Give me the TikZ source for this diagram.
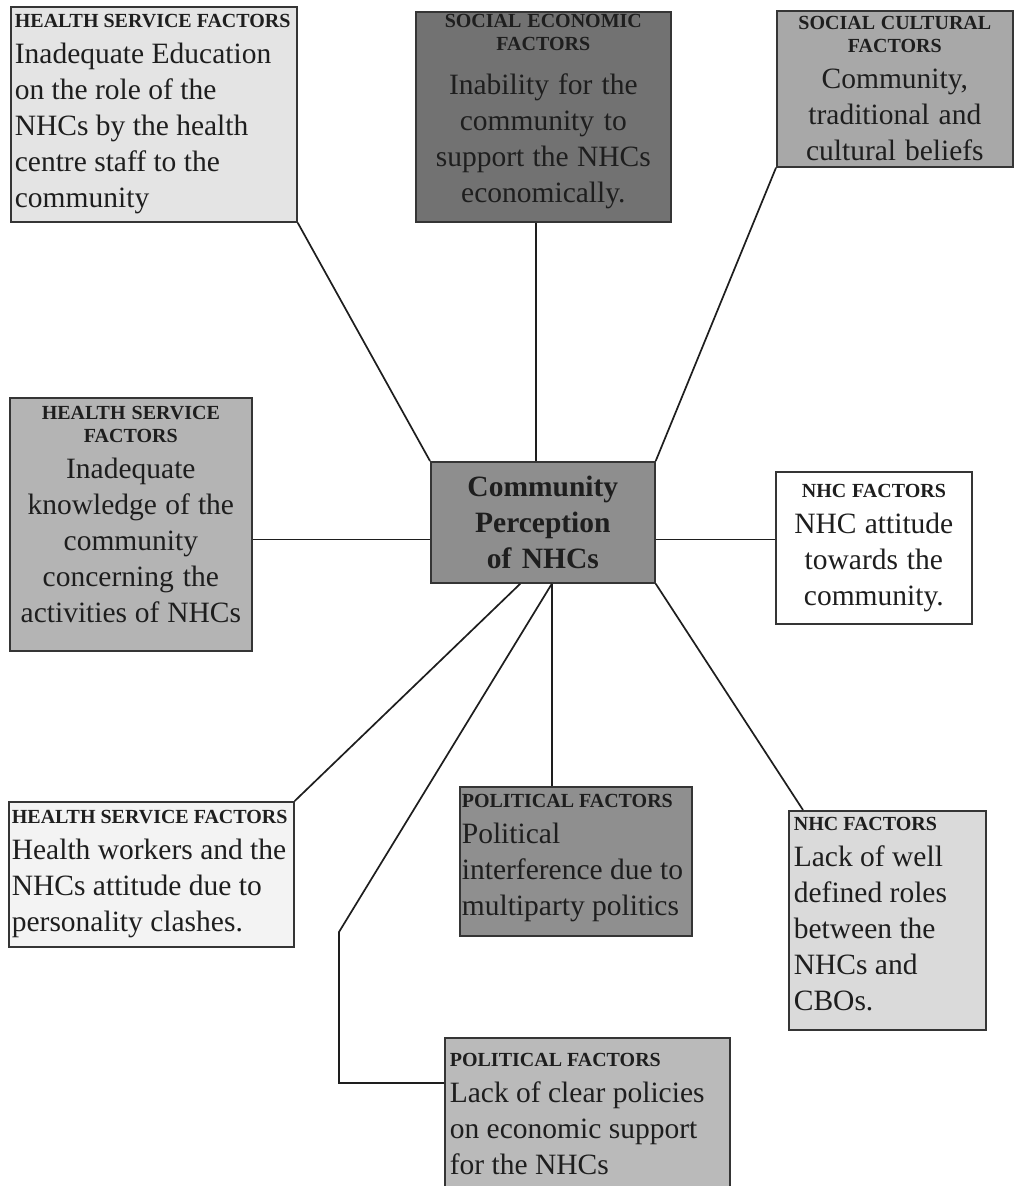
\documentclass[tikz,border=0pt]{standalone}
\usepackage{fontspec}
\setmainfont{Liberation Serif}
\usetikzlibrary{calc}
\newcommand{\ttlf}{\fontsize{20}{23}\selectfont\bfseries}
\newcommand{\bdyf}{\fontsize{29.5}{36}\selectfont\mdseries}
\newcommand{\nsp}{\spaceskip=0pt\xspaceskip=0pt\relax}
\newcommand{\dstrut}[1]{\rule[-#1]{0pt}{1pt}}
\definecolor{cA}{HTML}{E4E4E4}
\definecolor{cB}{HTML}{727272}
\definecolor{cC}{HTML}{A8A8A8}
\definecolor{cD}{HTML}{B4B4B4}
\definecolor{cE}{HTML}{8E8E8E}
\definecolor{cF}{HTML}{FFFFFF}
\definecolor{cG}{HTML}{F3F3F3}
\definecolor{cH}{HTML}{8F8F8F}
\definecolor{cI}{HTML}{DADADA}
\definecolor{cJ}{HTML}{BABABA}
\definecolor{ink}{HTML}{1E1E1E}
\begin{document}
\begin{tikzpicture}[x=1pt,y=-1pt,
  box/.style={draw=ink!90, line width=1.7pt, anchor=north west, inner xsep=5pt,
    inner ysep=0pt, font=\bdyf, text=ink},
  link/.style={line width=1.7pt, draw=ink}]
\clip (0,0) rectangle (1016,1186);
\fill[white] (0,0) rectangle (1016,1186);

\node[box, fill=cA, minimum width=286pt, minimum height=215pt, text width=278pt, inner xsep=4pt, align=left] (b1) at (10,6)
  {\nsp{\ttlf \mbox{HEALTH SERVICE FACTORS}\par}Inadequate Education\\on the role of the\\NHCs by the health\\centre staff to the\\community};

\node[box, fill=cB, minimum width=255pt, minimum height=210pt, text width=245pt, align=center] (b2) at (415,11)
  {\nsp{\ttlf SOCIAL ECONOMIC\\FACTORS\par}\vspace{8pt}Inability for the\\community to\\support the NHCs\\economically.\dstrut{17pt}};

\node[box, fill=cC, minimum width=236pt, minimum height=156pt, text width=226pt, align=center] (b3) at (776,10)
  {\nsp{\ttlf SOCIAL CULTURAL\\FACTORS\par}Community,\\traditional and\\cultural beliefs};

\node[box, fill=cD, minimum width=242pt, minimum height=253pt, text width=232pt, align=center] (b4) at (9,397)
  {\nsp{\ttlf HEALTH SERVICE\\FACTORS\par}Inadequate\\knowledge of the\\community\\concerning the\\activities of NHCs\dstrut{20pt}};

\node[box, fill=cE, minimum width=224pt, minimum height=121pt, text width=214pt, align=center, font=\bdyf\bfseries] (b5) at (430,461)
  {\nsp Community\\Perception\\of NHCs};

\node[box, fill=cF, minimum width=196pt, minimum height=152pt, text width=186pt, align=center] (b6) at (775,471)
  {\nsp{\ttlf NHC FACTORS\par}NHC attitude\\towards the\\community.};

\node[box, fill=cG, minimum width=285pt, minimum height=145pt, text width=279pt, inner xsep=3pt, align=left] (b7) at (8,801)
  {\nsp{\ttlf \mbox{HEALTH SERVICE FACTORS}\par}\mbox{Health workers and the}\\NHCs attitude due to\\personality clashes.};

\node[box, fill=cH, minimum width=232pt, minimum height=149pt, text width=228pt, inner xsep=2pt, align=left] (b8) at (459,786)
  {\nsp{\ttlf POLITICAL FACTORS\par}Political\\\mbox{interference due to}\\\mbox{multiparty politics}\dstrut{12pt}};

\node[box, fill=cI, minimum width=197pt, minimum height=219pt, text width=187pt, align=left] (b9) at (788,810)
  {\nsp{\ttlf NHC FACTORS\par}Lack of well\\defined roles\\between the\\NHCs and\\CBOs.\dstrut{12pt}};

\node[box, fill=cJ, minimum width=285pt, minimum height=152pt, text width=275pt, align=left] (b10) at (444,1037)
  {\nsp{\ttlf POLITICAL FACTORS\par}Lack of clear policies\\on economic support\\for the NHCs};

% connectors
\coordinate (ptop) at ($(b5.north west)!0.47!(b5.north east)$);
\coordinate (pmid) at ($(b5.north west)!0.64!(b5.south west)$);
\coordinate (pbl) at ($(b5.south west)!0.40!(b5.south east)$);
\coordinate (pbm) at ($(b5.south west)!0.54!(b5.south east)$);
\coordinate (bend) at (339,932);
\coordinate (elbow) at (339,1083);
\coordinate (p9) at ($(b9.north west)+(15,0)$);

\draw[link] (b1.south east) -- (b5.north west);
\draw[link] (ptop) -- (ptop |- b2.south);
\draw[link] (b3.south west) -- (b5.north east);
\draw[link] (b4.east |- pmid) -- (pmid);
\draw[link] (b5.east |- pmid) -- (b6.west |- pmid);
\draw[link] (pbl) -- (b7.north east);
\draw[link] (pbm) -- (pbm |- b8.north);
\draw[link] (pbm) -- (bend) -- (elbow) -- (elbow -| b10.west);
\draw[link] (b5.south east) -- (p9);
\end{tikzpicture}
\end{document}
